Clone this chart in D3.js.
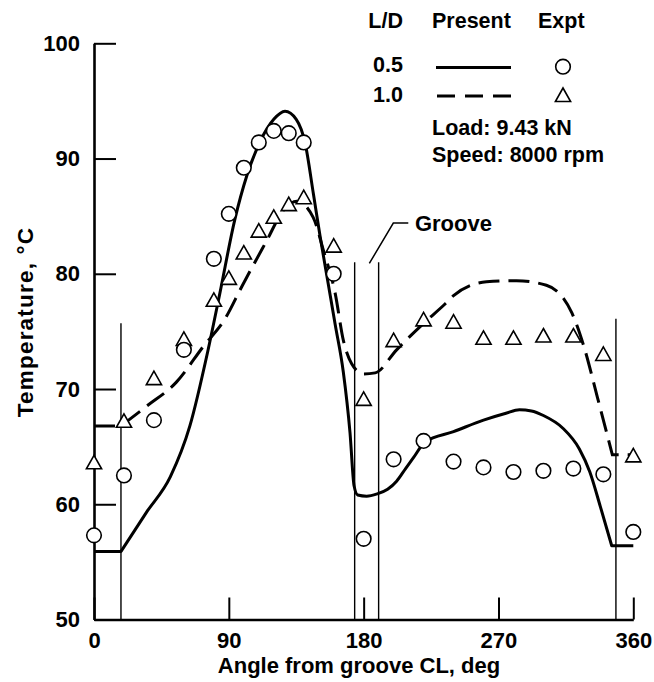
<!DOCTYPE html>
<html><head><meta charset="utf-8">
<script src="https://cdn.jsdelivr.net/npm/d3@7"></script>
<style>
body{margin:0;background:#fff;}
svg text{font-family:"Liberation Sans",Arial,Helvetica,sans-serif;font-weight:bold;fill:#000;}
</style></head><body>
<svg id="chart" width="654" height="682"></svg>
<script>
// ---- data ----
const xTicks = [0, 90, 180, 270, 360];
const yTicks = [50, 60, 70, 80, 90, 100];

const exptAngles = [0,20,40,60,80,90,100,110,120,130,140,160,180,200,220,240,260,280,300,320,340,360];
const expt05 = [57.3,62.5,67.3,73.4,81.3,85.2,89.2,91.4,92.4,92.2,91.4,80.0,57.0,63.9,65.5,63.7,63.2,62.8,62.9,63.1,62.6,57.6];
const expt10 = [63.6,67.2,70.9,74.3,77.7,79.6,81.8,83.7,84.9,86.0,86.6,82.4,69.1,74.2,76.0,75.8,74.4,74.4,74.6,74.6,73.0,64.2];

const present05Angles = [0,18,35,51,64,76,84,94,102,111,120,127.5,135,141,146.5,151,156,161,166.4,170.9,173.6,176,182,189,196,202,208,213,221,240,260,275,284,292,300,313,324,331,338,345.6,360];
const present05 = [55.9,55.9,59.3,62.4,66.8,73.3,78.3,84.7,88.5,91.5,93.4,94.1,93.4,91.3,86.9,83.2,79.4,75.6,71.5,66.2,61.6,60.8,60.7,60.9,61.3,62.0,63.1,64.0,65.4,66.3,67.3,67.9,68.2,68.1,67.7,66.6,64.8,62.8,59.8,56.4,56.4];
const present05Corners = [18, 345.6];

const present10Angles = [0,18,35,55,73,87.5,98.7,115.4,126.4,135.4,146.3,153.2,161,166.5,172,180,187.7,202,220,234.5,240,262,282,302,319,327,336,346,360];
const present10 = [66.8,66.8,68.5,70.6,73.7,76.1,78.9,82.9,85.5,86.3,84.9,82.0,78.3,74.2,72.2,71.3,71.4,73.4,75.7,77.4,78.1,79.3,79.4,79.0,76.6,73.7,69.3,64.3,64.3];
const present10Corners = [18, 346];

const padEdgeAngles = [18, 174, 190, 348.4];
const padEdgeTops = [75.7, 81.0, 81.0, 76.1];

// ---- drawing ----
const svg = d3.select("#chart");
const x = d3.scaleLinear().domain([0, 360]).range([94, 633.3]);
const y = d3.scaleLinear().domain([50, 100]).range([619.5, 43.3]);

// pad boundary lines
svg.append("g").selectAll("line").data(padEdgeAngles).join("line")
  .attr("x1", d => x(d)).attr("x2", d => x(d))
  .attr("y1", y(50)).attr("y2", (d, i) => y(padEdgeTops[i]))
  .attr("stroke", "#000").attr("stroke-width", 1.4);

// axes
const gy = svg.append("g").attr("transform", `translate(${x(0)},0)`)
  .call(d3.axisLeft(y).tickValues(yTicks).tickSizeInner(-22).tickSizeOuter(0).tickPadding(14).tickFormat(d3.format("d")));
const gx = svg.append("g").attr("transform", `translate(0,${y(50)})`)
  .call(d3.axisBottom(x).tickValues(xTicks).tickSizeInner(-22).tickSizeOuter(0).tickPadding(13).tickFormat(d3.format("d")));
[gx, gy].forEach(g => {
  g.select(".domain").attr("stroke", "#000").attr("stroke-width", 2.6);
  g.selectAll(".tick line").attr("stroke", "#000").attr("stroke-width", 2);
  g.selectAll(".tick text").attr("font-size", 22).attr("font-family", null).attr("fill", "#000");
  g.attr("font-family", null).attr("font-size", null);
});

// titles
svg.append("text").attr("x", 359).attr("y", 673).attr("text-anchor", "middle")
  .attr("font-size", 22).text("Angle from groove CL, deg");
svg.append("text").attr("transform", "translate(33,322) rotate(-90)").attr("text-anchor", "middle")
  .attr("font-size", 22.5).attr("letter-spacing", 1.2).text("Temperature, °C");

// curves
function cornerPath(angles, temps, corners) {
  const pts = angles.map((a, i) => [a, temps[i]]);
  const segs = []; let cur = [];
  pts.forEach(p => {
    cur.push(p);
    if (corners.includes(p[0]) && cur.length > 1) { segs.push(cur); cur = [p]; }
  });
  if (cur.length > 1) segs.push(cur);
  const line = d3.line().x(d => x(d[0])).y(d => y(d[1])).curve(d3.curveMonotoneX);
  return segs.map((s, i) => { const p = line(s); return i === 0 ? p : p.replace(/^M/, "L"); }).join("");
}
svg.append("path").attr("d", cornerPath(present05Angles, present05, present05Corners))
  .attr("fill", "none").attr("stroke", "#000").attr("stroke-width", 3).attr("stroke-linejoin", "round");
svg.append("path").attr("d", cornerPath(present10Angles, present10, present10Corners))
  .attr("fill", "none").attr("stroke", "#000").attr("stroke-width", 3).attr("stroke-dasharray", "21,9");

// markers
const tri = "M0,-7.5L7.6,6L-7.6,6Z";
svg.append("g").selectAll("path").data(exptAngles).join("path")
  .attr("d", tri).attr("transform", (d, i) => `translate(${x(d)},${y(expt10[i])})`)
  .attr("fill", "#fff").attr("stroke", "#000").attr("stroke-width", 1.6);
svg.append("g").selectAll("circle").data(exptAngles).join("circle")
  .attr("cx", d => x(d)).attr("cy", (d, i) => y(expt05[i])).attr("r", 7.3)
  .attr("fill", "#fff").attr("stroke", "#000").attr("stroke-width", 1.6);

// groove annotation
svg.append("path").attr("d", d3.line()([[x(183.8), y(80.9)], [x(199.8), y(84.4)], [x(209.8), y(84.4)]]))
  .attr("fill", "none").attr("stroke", "#000").attr("stroke-width", 1.5);
svg.append("text").attr("x", x(214.2)).attr("y", y(83.7)).attr("font-size", 22).text("Groove");

// legend
const lg = svg.append("g");
lg.append("text").attr("x", 403).attr("y", 28).attr("text-anchor", "end").attr("font-size", 21.5).text("L/D");
lg.append("text").attr("x", 432).attr("y", 28).attr("font-size", 21.5).text("Present");
lg.append("text").attr("x", 538).attr("y", 28).attr("font-size", 21.5).text("Expt");
lg.append("text").attr("x", 403).attr("y", 72).attr("text-anchor", "end").attr("font-size", 21.5).text("0.5");
lg.append("text").attr("x", 403).attr("y", 102).attr("text-anchor", "end").attr("font-size", 21.5).text("1.0");
lg.append("line").attr("x1", 436).attr("x2", 511).attr("y1", 67.5).attr("y2", 67.5).attr("stroke", "#000").attr("stroke-width", 3);
lg.append("line").attr("x1", 437).attr("x2", 511).attr("y1", 96).attr("y2", 96).attr("stroke", "#000").attr("stroke-width", 3).attr("stroke-dasharray", "18,10");
lg.append("circle").attr("cx", 563).attr("cy", 66.7).attr("r", 7.3).attr("fill", "#fff").attr("stroke", "#000").attr("stroke-width", 1.6);
lg.append("path").attr("d", tri).attr("transform", "translate(563,95.5)").attr("fill", "#fff").attr("stroke", "#000").attr("stroke-width", 1.6);
lg.append("text").attr("x", 432).attr("y", 135).attr("font-size", 21.5).text("Load: 9.43 kN");
lg.append("text").attr("x", 432).attr("y", 162).attr("font-size", 21.5).text("Speed: 8000 rpm");
</script>
</body></html>
